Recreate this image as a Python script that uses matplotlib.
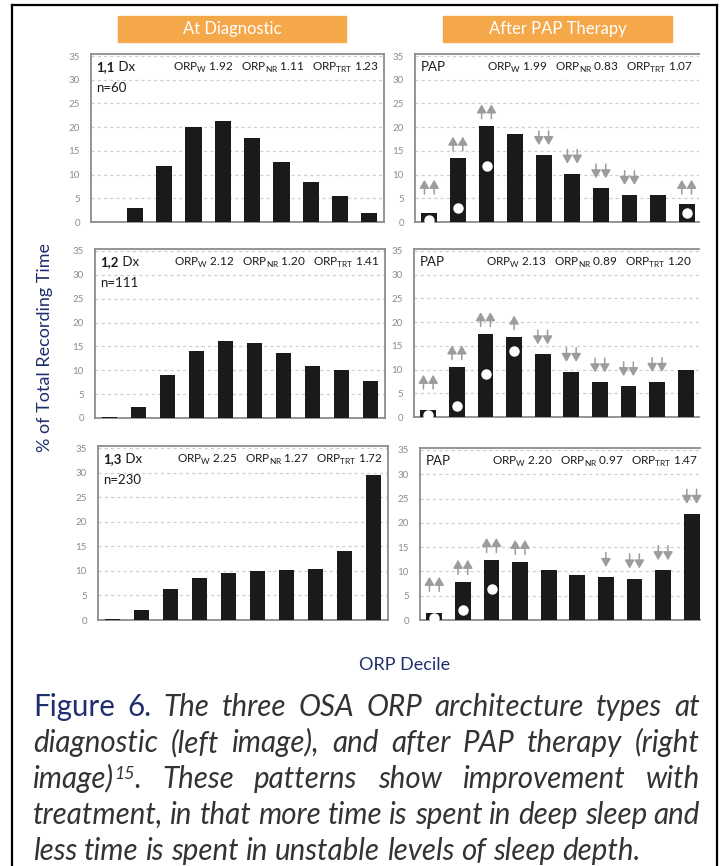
import matplotlib
matplotlib.use("Agg")
import matplotlib.pyplot as plt
from matplotlib.lines import Line2D
from matplotlib.patches import Rectangle

plt.rcParams["font.family"] = ["Lato", "DejaVu Sans"]
plt.rcParams["mathtext.fontset"] = "custom"
plt.rcParams["mathtext.rm"] = "Lato"

W, H = 721, 866

# ORP decile bars (% of total recording time)
deciles = list(range(1, 11))
dx_11 = [0.0, 3.0, 11.9, 20.0, 21.2, 17.7, 12.7, 8.5, 5.5, 1.8]
pap_11 = [2.0, 13.4, 20.2, 18.5, 14.1, 10.2, 7.1, 5.7, 5.7, 3.7]
dx_12 = [0.2, 2.4, 9.1, 14.0, 16.2, 15.8, 13.7, 10.9, 10.0, 7.7]
pap_12 = [1.5, 10.5, 17.5, 16.8, 13.2, 9.5, 7.3, 6.5, 7.4, 9.9]
dx_13 = [0.2, 2.0, 6.3, 8.5, 9.5, 9.9, 10.1, 10.3, 14.1, 29.6]
pap_13 = [1.4, 7.8, 12.3, 11.9, 10.2, 9.3, 8.8, 8.5, 10.2, 21.8]

# change markers after PAP: uu / u = increase, dd / d = decrease
arrows_11 = ["uu", "uu", "uu", "", "dd", "dd", "dd", "dd", "", "uu"]
arrows_12 = ["uu", "uu", "uu", "u", "dd", "dd", "dd", "dd", "dd", ""]
arrows_13 = ["uu", "uu", "uu", "uu", "", "", "d", "dd", "dd", "dd"]
# deciles where the diagnostic level is marked with a white dot
dots_11 = [1, 2, 3, 10]
dots_12 = [1, 2, 3, 4]
dots_13 = [1, 2, 3]

types = ["1,1", "1,2", "1,3"]
n_pat = [60, 111, 230]
orp_dx = [(1.92, 1.11, 1.23), (2.12, 1.20, 1.41), (2.25, 1.27, 1.72)]
orp_pap = [(1.99, 0.83, 1.07), (2.13, 0.89, 1.20), (2.20, 0.97, 1.47)]
yticks = [0, 5, 10, 15, 20, 25, 30, 35]

headers = ["At Diagnostic", "After PAP Therapy"]
ylabel = "% of Total Recording Time"
xlabel = "ORP Decile"
caption_lines = [
    "Figure 6. The three OSA ORP architecture types at",
    "diagnostic (left image), and after PAP therapy (right",
    "image)^15. These patterns show improvement with",
    "treatment, in that more time is spent in deep sleep and",
    "less time is spent in unstable levels of sleep depth.",
]

NAVY = "#1f2f6e"
ORANGE = "#f5a84a"
GRAY = "#8c8c8c"
ARROW = "#9c9c9c"
YTOP = 35.4

fig = plt.figure(figsize=(W / 100, H / 100), dpi=100)


def add_panel(left, right, y35, y0, xmax):
    top = y0 - (y0 - y35) * YTOP / 35
    ax = fig.add_axes([left / W, 1 - y0 / H, (right - left) / W, (y0 - top) / H])
    ax.set_xlim(0.5, xmax)
    ax.set_ylim(0, YTOP)
    ax.set_xticks([])
    ax.set_yticks(yticks)
    ax.tick_params(axis="y", length=0, pad=8, labelsize=7, labelcolor=GRAY)
    ax.set_axisbelow(True)
    ax.yaxis.grid(True, ls=(0, (2.5, 2.5)), color="#cfcfcf", lw=0.9)
    for s in ax.spines.values():
        s.set_color(GRAY)
        s.set_linewidth(1.3)
    return ax


def orp_text(vals):
    return (r"ORP$_\mathregular{W}$ %.2f   ORP$_\mathregular{NR}$ %.2f   "
            r"ORP$_\mathregular{TRT}$ %.2f" % vals)


def draw_arrow(ax, x, base, up):
    length = 3.0
    if up:
        tail, tip = base, base + length
    else:
        tail, tip = base + length, base
    ax.annotate("", xy=(x, tip), xytext=(x, tail),
                arrowprops=dict(arrowstyle="-|>,head_length=0.55,head_width=0.32",
                                color=ARROW, lw=1.1, shrinkA=0, shrinkB=0,
                                mutation_scale=9))


left_rects = [(91, 384, 56, 222), (95, 385, 251, 418), (98, 388, 448, 620)]
right_rects = [(415, 699, 56, 222), (414, 699, 251, 417), (420, 700, 450, 620)]
dx_all = [dx_11, dx_12, dx_13]
pap_all = [pap_11, pap_12, pap_13]
arrows_all = [arrows_11, arrows_12, arrows_13]
dots_all = [dots_11, dots_12, dots_13]

for r in range(3):
    # diagnostic panel
    L, R, y35, y0 = left_rects[r]
    ax = add_panel(L, R, y35, y0, 10.5)
    ax.bar(deciles, dx_all[r], width=0.55, color="#1a1a1a", zorder=3)
    t = ax.annotate(types[r], xy=(0, 1), xycoords="axes fraction", xytext=(4, -5),
                    textcoords="offset points", ha="left", va="top",
                    fontsize=9.5, fontweight="bold", color="#1a1a1a")
    ax.annotate(" Dx", xy=(1, 0), xycoords=t, ha="left", va="bottom",
                fontsize=9.5, color="#1a1a1a")
    ax.annotate("n=%d" % n_pat[r], xy=(0, 1), xycoords="axes fraction",
                xytext=(4, -20), textcoords="offset points", ha="left", va="top",
                fontsize=9.5, color="#1a1a1a")
    ax.annotate(orp_text(orp_dx[r]), xy=(1, 1), xycoords="axes fraction",
                xytext=(-4, -5), textcoords="offset points", ha="right", va="top",
                fontsize=8.5, color="#1a1a1a")

    # PAP panel (right edge cropped in the source)
    L, R, y35, y0 = right_rects[r]
    xmax = 0.5 + (R - L) / 28.6
    ax = add_panel(L, R, y35, y0, xmax)
    ax.spines["right"].set_visible(False)
    pap = pap_all[r]
    ax.bar(deciles, pap, width=0.55, color="#1a1a1a", zorder=3)
    for d in dots_all[r]:
        ax.plot(d, max(dx_all[r][d - 1], 0.4), "o", ms=6.5, mfc="white",
                mec="white", zorder=4)
    for i, a in enumerate(arrows_all[r]):
        if not a:
            continue
        x = deciles[i]
        up = a[0] == "u"
        base = max(pap[i], 4.3) + 1.6 if up else pap[i] + 2.1
        offs = [-0.17, 0.17] if len(a) == 2 else [0.0]
        for o in offs:
            draw_arrow(ax, x + o, base, up)
    ax.annotate("PAP", xy=(0, 1), xycoords="axes fraction", xytext=(4, -5),
                textcoords="offset points", ha="left", va="top",
                fontsize=9.5, color="#1a1a1a")
    ax.annotate(orp_text(orp_pap[r]), xy=(0, 1), xycoords="axes fraction",
                xytext=(52, -5), textcoords="offset points", ha="left", va="top",
                fontsize=8.5, color="#1a1a1a", annotation_clip=False,
                clip_on=True)

# header boxes
for (x0, x1), label in zip([(118, 346), (443, 672)], headers):
    fig.patches.append(Rectangle((x0 / W, 1 - 42 / H), (x1 - x0) / W, 26 / H,
                                 transform=fig.transFigure, color=ORANGE, zorder=0))
    fig.text((x0 + x1) / 2 / W, 1 - 29 / H, label, ha="center", va="center",
             color="white", fontsize=12)

# axis titles
fig.text(45 / W, 1 - 348 / H, ylabel, rotation=90, ha="center", va="center",
         color=NAVY, fontsize=13)
fig.text(405 / W, 1 - 665 / H, xlabel, ha="center", va="center",
         color=NAVY, fontsize=13)

# outer frame
for xs, ys in [((12, 12), (5, 866)), ((12, 717), (5, 5)), ((717, 717), (5, 866))]:
    fig.lines.append(Line2D([x / W for x in xs], [1 - y / H for y in ys],
                            transform=fig.transFigure, color="black", lw=1.6))

# justified caption
renderer = fig.canvas.get_renderer()
CAP_L, CAP_R = 33, 700
baselines = [716, 752, 788, 824, 860]


def segs_for(word, li, wi):
    if li == 0 and wi < 2:
        return [(word, dict(color=NAVY, style="normal"))]
    if "^" in word:
        a, b = word.split("^")
        return [(a, dict(style="italic")), ("15", dict(style="italic", sup=True)),
                (".", dict(style="italic"))]
    return [(word, dict(style="italic"))]


def make_text(s, opts, size):
    sup = opts.get("sup", False)
    return fig.text(0, 0, s, fontsize=size * (0.6 if sup else 1.0),
                    style=opts.get("style", "italic"), fontweight="normal",
                    color=opts.get("color", "#333333"), ha="left", va="baseline")


def measure(line, li, size):
    words = []
    for wi, w in enumerate(line.split(" ")):
        segs = []
        for s, o in segs_for(w, li, wi):
            t = make_text(s, o, size)
            segs.append((t, t.get_window_extent(renderer).width, o.get("sup", False)))
        words.append(segs)
    return words


# fit font size so that a normally spaced line fills the caption width
probe = measure(caption_lines[3], 3, 20)
sp = make_text("a a", {}, 20).get_window_extent(renderer).width - \
    2 * make_text("a", {}, 20).get_window_extent(renderer).width
nat = sum(w for segs in probe for _, w, _ in segs) + sp * (len(probe) - 1)
for segs in probe:
    for t, _, _ in segs:
        t.remove()
for t in list(fig.texts[-2:]):
    t.remove()
size = 20 * (CAP_R - CAP_L) / nat
space = sp * size / 20

for li, line in enumerate(caption_lines):
    words = measure(line, li, size)
    widths = [sum(w for _, w, _ in segs) for segs in words]
    last = li == len(caption_lines) - 1
    gap = space if last else (CAP_R - CAP_L - sum(widths)) / (len(words) - 1)
    x = CAP_L
    yb = baselines[li]
    for segs, wsum in zip(words, widths):
        cx = x
        for t, w, sup in segs:
            t.set_position((cx / W, 1 - (yb - (9 if sup else 0)) / H))
            cx += w
        x += wsum + gap

fig.savefig("out.png", dpi=100)
